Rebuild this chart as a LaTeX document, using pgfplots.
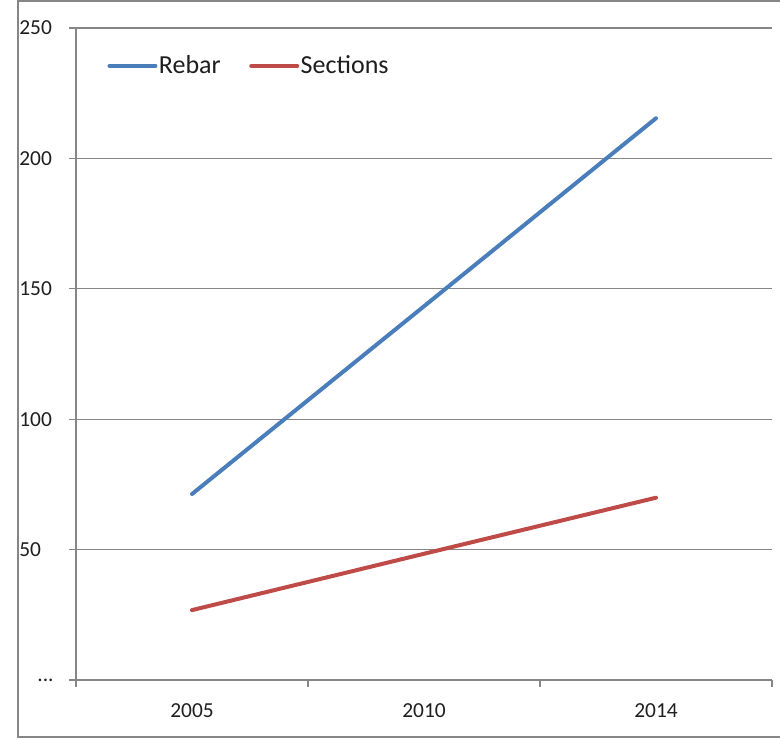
\documentclass[border=0pt]{standalone}
\usepackage{pgfplots}
\pgfplotsset{compat=1.18}
\usepackage{fontspec}
\setmainfont{Carlito}
\definecolor{rebar}{RGB}{74,126,187}
\definecolor{sect}{RGB}{190,75,72}
\definecolor{gridc}{RGB}{134,134,134}
\definecolor{txt}{RGB}{30,30,30}
\newcommand{\dotlabel}{\hspace{9pt}.{}.{}.}
\begin{document}
\begin{tikzpicture}
\useasboundingbox (-38pt,-29.5pt) rectangle (352pt,340pt);
\draw[gridc, line width=1pt] (-29pt,-28.5pt) rectangle (362pt,339.5pt);
\begin{axis}[
  at={(0,0)}, anchor=south west,
  scale only axis,
  width=348pt, height=326pt,
  xmin=-0.5, xmax=2.5,
  ymin=0, ymax=250,
  axis x line*=bottom, axis y line*=left,
  axis line style={gridc, line width=0.65pt, -},
  xtick={-0.5,0.5,1.5,2.5},
  xticklabels={2005,2010,2014},
  x tick label as interval,
  ytick={0,50,100,150,200,250},
  yticklabels={\dotlabel,50,100,150,200,250},
  tick align=outside,
  major tick length=3.5pt,
  tick style={gridc, line width=0.65pt},
  ymajorgrids,
  major grid style={gridc, line width=0.65pt},
  ticklabel style={font=\fontsize{10.7pt}{12pt}\selectfont, text=txt},
  yticklabel style={anchor=west, inner sep=0pt, xshift=-25pt},
  xticklabel style={inner sep=0pt, yshift=-8pt},
  legend style={draw=none, fill=none, at={(0.036,0.942)}, anchor=west,
    legend columns=2, font=\fontsize{13pt}{15pt}\selectfont, text=txt,
    nodes={inner sep=0.75pt},
    /tikz/every even column/.append style={column sep=13.5pt}},
  legend cell align=left,
  legend image code/.code={\draw[#1, line cap=round] (0pt,0pt) -- (23pt,0pt);},
]
\addplot[rebar, line width=2pt, line cap=round] coordinates {(0,71.3) (1,143.3) (2,215.4)};
\addlegendentry{Rebar}
\addplot[sect, line width=2pt, line cap=round] coordinates {(0,26.8) (1,48.4) (2,69.9)};
\addlegendentry{Sections}
\end{axis}
\end{tikzpicture}
\end{document}
